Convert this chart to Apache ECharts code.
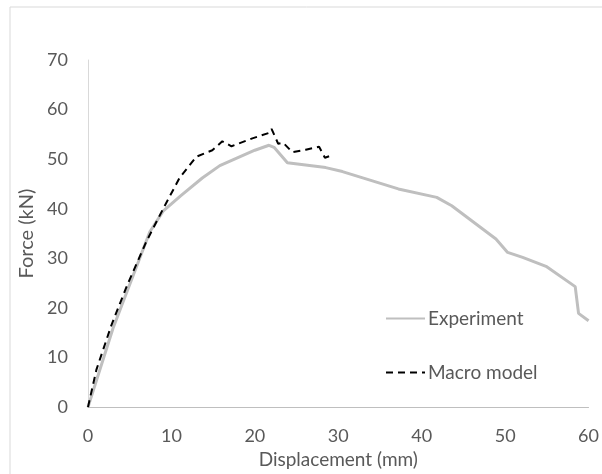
<!DOCTYPE html>
<html>
<head>
    <meta charset="utf-8">
    <title>force-displacement</title>
    <script src="https://cdn.jsdelivr.net/npm/echarts@6/dist/echarts.min.js"></script>
</head>
<body style="margin:0;background:#fff;">
    <div id="main" style="width:602px;height:474px;"></div>
    <script type="text/javascript">
        var chart = echarts.init(document.getElementById('main'));

        // Experiment curve: displacement (mm) / force (kN)
        var expDisp = [0, 3.0, 7.4, 9.0, 11.1, 13.7, 15.8, 20.0, 21.7, 22.3, 23.9, 28.5, 30.5, 37.2, 41.8, 43.6, 48.9, 50.3, 52.1, 54.9, 58.4, 58.8, 60.0];
        var expForce = [0, 15.9, 35.3, 39.5, 42.6, 46.2, 48.7, 51.8, 52.8, 52.4, 49.3, 48.3, 47.5, 44.0, 42.3, 40.6, 33.9, 31.2, 30.2, 28.4, 24.3, 18.9, 17.4];

        // Macro model curve
        var macDisp = [0, 1.0, 2.8, 4.7, 7.0, 9.1, 11.0, 13.0, 14.9, 16.1, 17.2, 19.7, 21.7, 22.0, 22.8, 23.4, 24.5, 26.1, 27.7, 28.4, 28.9];
        var macForce = [0, 7.5, 16.5, 24.6, 33.4, 40.3, 46.3, 50.5, 51.8, 53.6, 52.6, 54.2, 55.3, 56.1, 53.1, 53.3, 51.4, 51.9, 52.5, 50.3, 50.6];

        var xTicks = [0, 60, 10];  // min, max, interval
        var yTicks = [0, 70, 10];

        function pairs(xs, ys) {
            return xs.map(function (x, i) { return [x, ys[i]]; });
        }

        var font = 'Lato, "Open Sans", sans-serif';
        var textColor = '#595959';

        var option = {
            backgroundColor: '#fff',
            animation: false,
            textStyle: { fontFamily: font },
            graphic: [{
                type: 'rect',
                shape: { x: 10, y: 7, width: 600, height: 480 },
                style: { fill: 'none', stroke: '#d9d9d9', lineWidth: 1 },
                z: -1
            }],
            grid: { left: 88, right: 11, top: 60, bottom: 65 },
            legend: {
                orient: 'vertical',
                left: 380,
                top: 304,
                itemWidth: 39,
                itemHeight: 14,
                itemGap: 35,
                itemStyle: { opacity: 0 },
                textStyle: { color: textColor, fontSize: 19, fontFamily: font, padding: [0, 0, 0, -2] },
                data: ['Experiment', 'Macro model']
            },
            xAxis: {
                type: 'value',
                min: xTicks[0],
                max: xTicks[1],
                interval: xTicks[2],
                name: 'Displacement (mm)',
                nameLocation: 'middle',
                nameGap: 33,
                nameTextStyle: { color: textColor, fontSize: 19 },
                axisLine: { lineStyle: { color: '#bfbfbf', width: 1 } },
                axisTick: { show: false },
                axisLabel: { color: textColor, fontSize: 18, margin: 20 },
                splitLine: { show: false }
            },
            yAxis: {
                type: 'value',
                min: yTicks[0],
                max: yTicks[1],
                interval: yTicks[2],
                name: 'Force (kN)',
                nameLocation: 'middle',
                nameGap: 48,
                nameTextStyle: { color: textColor, fontSize: 20 },
                axisLine: { show: true, lineStyle: { color: '#d9d9d9', width: 1 } },
                axisTick: { show: false },
                axisLabel: { color: textColor, fontSize: 18, margin: 20 },
                splitLine: { show: false }
            },
            series: [{
                name: 'Experiment',
                type: 'line',
                symbol: 'none',
                lineStyle: { color: '#bfbfbf', width: 3 },
                itemStyle: { color: '#bfbfbf' },
                data: pairs(expDisp, expForce)
            }, {
                name: 'Macro model',
                type: 'line',
                symbol: 'none',
                lineStyle: { color: '#000', width: 2, type: [7, 5] },
                itemStyle: { color: '#000' },
                data: pairs(macDisp, macForce)
            }]
        };
        chart.setOption(option);
    </script>
</body>
</html>
